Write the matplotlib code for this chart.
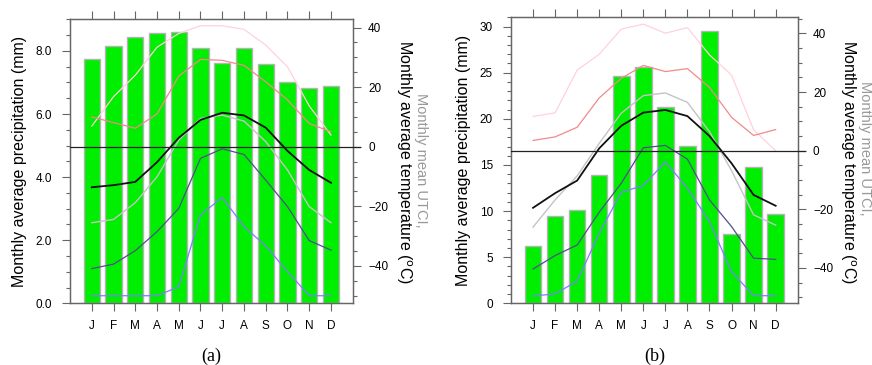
import matplotlib
matplotlib.use("Agg")
import matplotlib.pyplot as plt
from matplotlib.ticker import MultipleLocator, FormatStrFormatter

plt.rcParams["font.family"] = ["Liberation Sans", "DejaVu Sans"]

months = ["J", "F", "M", "A", "M", "J", "J", "A", "S", "O", "N", "D"]

# panel (a)
precip_a = [7.73, 8.14, 8.43, 8.56, 8.59, 8.08, 7.62, 8.09, 7.60, 7.00, 6.82, 6.89]
tmax_ext_a = [6.9, 16.8, 24.0, 33.4, 38.0, 40.6, 40.6, 39.4, 34.1, 26.8, 13.7, 3.9]
tmax_a = [10.0, 8.1, 6.2, 11.0, 23.7, 29.3, 29.0, 27.3, 21.8, 15.7, 7.8, 5.0]
utci_a = [-25.5, -24.4, -18.8, -10.1, 2.2, 9.5, 10.6, 8.6, 1.7, -7.8, -20.1, -25.5]
tmean_a = [-13.6, -12.9, -11.8, -5.2, 3.0, 9.0, 11.4, 10.5, 6.4, -1.4, -7.8, -12.1]
tmin_a = [-40.9, -39.4, -34.9, -28.5, -20.7, -3.9, -0.7, -2.6, -11.2, -20.1, -31.5, -34.7]
tmin_ext_a = [-50.0, -50.0, -50.0, -50.0, -47.0, -22.9, -17.0, -26.8, -33.3, -41.9, -50.0, -50.0]

# panel (b)
precip_b = [6.25, 9.5, 10.09, 13.88, 24.65, 25.63, 21.26, 17.09, 29.53, 7.48, 14.78, 9.65]
tmax_ext_b = [11.7, 12.9, 27.5, 32.9, 41.5, 43.2, 40.1, 42.0, 32.7, 25.8, 7.1, 0.0]
tmax_b = [3.5, 4.7, 8.0, 18.0, 24.7, 29.1, 27.0, 28.0, 21.6, 11.4, 5.2, 7.2]
utci_b = [-26.1, -16.8, -8.6, 2.5, 12.8, 18.8, 19.7, 16.5, 6.5, -6.8, -21.9, -25.4]
tmean_b = [-19.5, -14.5, -10.2, 0.8, 8.5, 13.0, 13.9, 11.8, 5.0, -4.3, -15.1, -18.8]
tmin_b = [-40.4, -35.8, -32.2, -21.0, -11.1, 1.0, 1.8, -2.9, -16.8, -25.9, -36.7, -37.1]
tmin_ext_b = [-49.6, -48.9, -44.5, -28.2, -14.2, -11.9, -3.8, -12.8, -24.2, -41.3, -49.5, -49.5]

x = list(range(12))
line_styles = [
    ("#ffd2da", 0.9),  # extreme max
    ("#f08a8a", 0.9),  # mean max
    ("#c4c4c4", 1.0),  # UTCI
    ("#111111", 1.3),  # mean
    ("#505088", 0.9),  # mean min
    ("#7e7eff", 0.9),  # extreme min
]
frame_col = "#666666"


def draw_panel(ax, precip, temps, pmax, pmajor, pminor, pfmt, tlim, label_x, gray_y, tag):
    ax.bar(x, precip, width=0.75, color="#00ee00", edgecolor="#b4b4b4", linewidth=1.0, zorder=2)
    ax.set_xlim(-1, 12)
    ax.set_ylim(0, pmax)
    ax.set_xticks(x)
    ax.set_xticklabels(months)
    ax.yaxis.set_major_locator(MultipleLocator(pmajor))
    ax.yaxis.set_minor_locator(MultipleLocator(pminor))
    ax.yaxis.set_major_formatter(FormatStrFormatter(pfmt))
    ax.tick_params(axis="x", direction="out", length=6, width=0.8, color=frame_col,
                   top=True, labelsize=8.5, pad=6)
    ax.tick_params(axis="y", which="major", direction="out", length=6, width=0.8,
                   color=frame_col, labelsize=8.5, pad=7)
    ax.tick_params(axis="y", which="minor", direction="out", length=3, width=0.8, color=frame_col)
    ax.set_ylabel("Monthly average precipitation (mm)", fontsize=11.5, labelpad=6)

    tw = ax.twinx()
    tw.set_ylim(*tlim)
    for vals, (col, lw) in zip(temps, line_styles):
        tw.plot(x, vals, color=col, linewidth=lw, zorder=3)
    tw.plot([-1, 12.33], [0, 0], color="#222222", linewidth=0.9, clip_on=False, zorder=4)
    tw.yaxis.set_major_locator(MultipleLocator(20))
    tw.yaxis.set_minor_locator(MultipleLocator(5))
    tw.tick_params(axis="y", which="major", direction="out", length=6, width=0.8,
                   color=frame_col, labelsize=8.5, pad=5)
    tw.tick_params(axis="y", which="minor", direction="out", length=3, width=0.8, color=frame_col)
    tw.set_xlim(-1, 12)
    for a in (ax, tw):
        for s in a.spines.values():
            s.set_color(frame_col)
            s.set_linewidth(0.9)

    fig.text(label_x, 0.555, "Monthly average temperature ($^{\\mathrm{o}}$C)", rotation=270,
             ha="center", va="center", fontsize=11.5, color="black")
    fig.text(label_x + 0.0195, gray_y, "Monthly mean UTCI,", rotation=270,
             ha="center", va="center", fontsize=10.5, color="#999999")
    cx = (ax.get_position().x0 + ax.get_position().x1) / 2
    fig.text(cx, 0.025, tag, ha="center", va="center", fontsize=13,
             family=["Liberation Serif", "DejaVu Serif"])


fig = plt.figure(figsize=(8.72, 3.65), dpi=100)
ax_a = fig.add_axes([0.0803, 0.169, 0.3242, 0.778])
ax_b = fig.add_axes([0.586, 0.169, 0.3288, 0.7834])

draw_panel(ax_a, precip_a,
           [tmax_ext_a, tmax_a, utci_a, tmean_a, tmin_a, tmin_ext_a],
           9.0, 2.0, 0.5, "%.1f", (-52.55, 42.75), 0.463, 0.562, "(a)")
draw_panel(ax_b, precip_b,
           [tmax_ext_b, tmax_b, utci_b, tmean_b, tmin_b, tmin_ext_b],
           31.0, 5, 1, "%d", (-52.1, 45.5), 0.972, 0.595, "(b)")

fig.savefig("out.png", dpi=100)
